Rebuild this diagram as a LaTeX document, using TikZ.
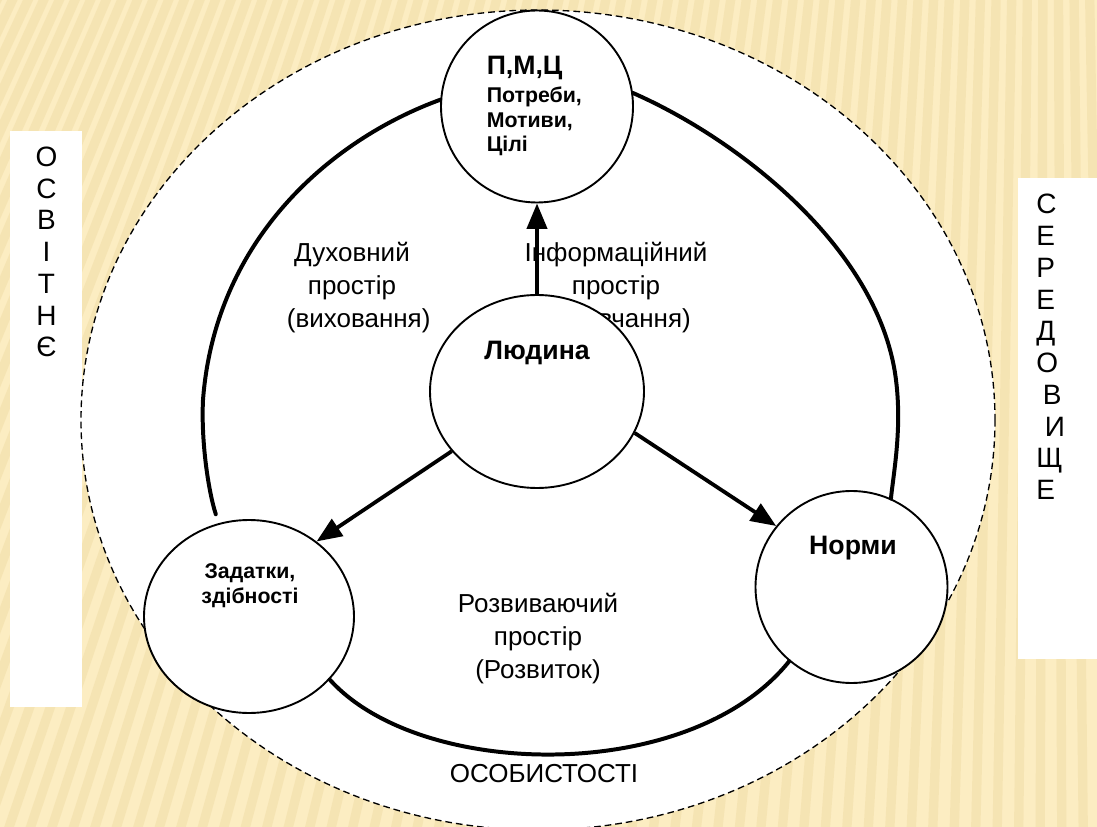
\documentclass[tikz,border=0pt]{standalone}
\usepackage{fontspec}
\setmainfont{Liberation Sans}
\usetikzlibrary{arrows.meta,shapes.geometric}
\definecolor{fon}{RGB}{252,237,194}
\definecolor{smuha}{RGB}{232,208,146}
\tikzset{
	krug/.style={circle, draw, fill=white, line width=0.5mm, inner sep=0pt, minimum size=144pt},
	oval/.style={ellipse, draw, fill=white, line width=0.5mm, inner sep=0pt, minimum height=144.75pt},
	duga/.style={line width=1.05mm, line cap=round},
	strilka/.style={line width=1mm, -{Triangle[length=19pt,width=15pt]}},
	napys/.style={font=\fontsize{19.5}{24.6}\selectfont, align=center, inner sep=0pt},
	bukvy/.style={font=\fontsize{21}{23.8}\selectfont, inner sep=0pt},
	zhyrnyj/.style={font=\bfseries\fontsize{20}{24}\selectfont, inner sep=0pt},
	dribnyj/.style={font=\bfseries\fontsize{16}{18.4}\selectfont, inner sep=0pt}
}

\begin{document}
\begin{tikzpicture}[x=0.75pt,y=-0.75pt]
		%%%%% START %%%%%
		\useasboundingbox (0,0) rectangle (1097,827);
		
		\begin{scope}
			\clip (0,0) rectangle (1097,827);
			\fill[fon] (0,0) rectangle (1097,827);
			\foreach \x in {-500,-478,...,1250}
				\draw[smuha, line width=7pt, opacity=0.3] (1050,-2200) -- (\x,900);
		\end{scope}
		
		\fill[white] (10,131) rectangle (82,707);
		\fill[white] (1018,178) rectangle (1097,659);
		\draw[fill=white, line width=0.35mm, dash pattern=on 5pt off 3pt] (538,420) ellipse [x radius=457, y radius=410];
		
		\node[bukvy, align=center] (osvitnje) at (46.5,252) {О\\С\\В\\І\\Т\\Н\\Є};
		\node[bukvy, align=left, anchor=west] (seredovyshche) at (1036,347) {С\\Е\\Р\\Е\\Д\\О\\\hspace*{5pt}В\\\hspace*{6.5pt}И\\Щ\\Е};
		
		\node[napys] (duhovnyj) at (352,287.5) {Духовний\\простір\hspace*{12pt}\\\hspace*{10pt}(виховання)};
		\node[napys] (informacijnyj) at (616,287.5) {Інформаційний\\простір\\\hspace*{15pt}(навчання)};
		\node[napys] (rozvyvajuchyj) at (538,638.5) {Розвиваючий\\простір\\(Розвиток)};
		\node[napys, anchor=base] (osobystosti) at (544,782) {ОСОБИСТОСТІ};
		
		\node[krug] (pmc) at (537,106.5) {};
		\node[oval, minimum width=160.5pt] (ludyna) at (537,391.5) {};
		\node[oval, minimum width=157.5pt] (zadatky) at (249,616.5) {};
		\node[krug] (normy) at (851.5,587) {};
		
		\node[zhyrnyj, anchor=base west] (pmctitle) at (486.5,74.5) {П,М,Ц};
		\node[dribnyj, align=left, anchor=west] (pmctext) at (486.5,121.5) {Потреби,\\Мотиви,\\Цілі};
		\node[zhyrnyj, anchor=base] (ludynatext) at (537,359.5) {Людина};
		\node[dribnyj, align=center] (zadatkytext) at (250,585.5) {Задатки,\\здібності};
		\node[zhyrnyj, anchor=base] (normytext) at (853,554.5) {Норми};
		
		\draw[duga, shorten >=7pt] (pmc.176) .. controls (330,140) and (215,240) .. (203,400) .. controls (201,440) and (208,490) .. (zadatky.108);
		\draw[duga] (pmc.8) .. controls (740,140) and (880,250) .. (896,380) .. controls (902,428) and (894,470) .. (normy.66);
		\draw[duga] (zadatky.322) .. controls (420,780) and (690,785) .. (normy.230);
		
		\draw[strilka] (ludyna.90) -- (pmc.270);
		\draw[strilka] (ludyna.215) -- (zadatky.48);
		\draw[strilka] (ludyna.337) -- (normy.141);
		
		%%%%% END %%%%%
\end{tikzpicture}
\end{document}
